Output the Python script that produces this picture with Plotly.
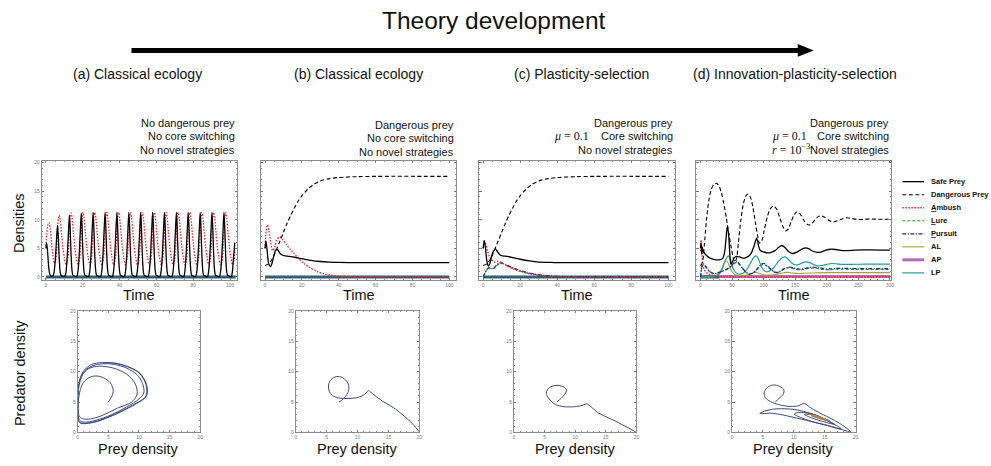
import plotly.graph_objects as go

W, H = 991, 466

# ---------------- data ----------------
series_names = ["Safe Prey", "Dangerous Prey", "<u>A</u>mbush", "<u>L</u>ure",
                "<u>P</u>ursuit", "AL", "AP", "LP"]
panel_titles = ["(a) Classical ecology", "(b) Classical ecology",
                "(c) Plasticity-selection", "(d) Innovation-plasticity-selection"]
conditions = [["No dangerous prey", "No core switching", "No novel strategies"],
              ["Dangerous prey", "No core switching", "No novel strategies"],
              ["Dangerous prey", "Core switching", "No novel strategies"],
              ["Dangerous prey", "Core switching", "Novel strategies"]]
ticks_t100 = [0, 20, 40, 60, 80, 100]
ticks_t300 = [0, 50, 100, 150, 200, 250, 300]
ticks_dens = [0, 5, 10, 15, 20]

# panel (a)
safe_a_t = [0, 0.4, 0.9, 1.5, 2.1, 2.8,
            3.9, 4.5, 5.1, 5.7, 6.3, 6.75, 7.2, 7.7, 8.2, 9.3,
            10.35, 10.95, 11.55, 12.15, 12.75, 13.2, 13.65, 14.15, 14.65, 15.75,
            16.8, 17.4, 18.0, 18.6, 19.2, 19.65, 20.1, 20.6, 21.1, 22.2,
            23.2, 23.8, 24.4, 25.0, 25.6, 26.05, 26.5, 27.0, 27.5, 28.6,
            29.7, 30.3, 30.9, 31.5, 32.1, 32.55, 33.0, 33.5, 34.0, 35.1,
            36.1, 36.7, 37.3, 37.9, 38.5, 38.95, 39.4, 39.9, 40.4, 41.5,
            42.6, 43.2, 43.8, 44.4, 45.0, 45.45, 45.9, 46.4, 46.9, 48.0,
            49.0, 49.6, 50.2, 50.8, 51.4, 51.85, 52.3, 52.8, 53.3, 54.4,
            55.5, 56.1, 56.7, 57.3, 57.9, 58.35, 58.8, 59.3, 59.8, 60.9,
            61.9, 62.5, 63.1, 63.7, 64.3, 64.75, 65.2, 65.7, 66.2, 67.3,
            68.4, 69.0, 69.6, 70.2, 70.8, 71.25, 71.7, 72.2, 72.7, 73.8,
            74.8, 75.4, 76.0, 76.6, 77.2, 77.65, 78.1, 78.6, 79.1, 80.2,
            81.3, 81.9, 82.5, 83.1, 83.7, 84.15, 84.6, 85.1, 85.6, 86.7,
            87.7, 88.3, 88.9, 89.5, 90.1, 90.55, 91.0, 91.5, 92.0, 93.1,
            94.2, 94.8, 95.4, 96.0, 96.6, 97.05, 97.5, 98.0, 98.5, 99.6,
            100.6, 101.2, 101.8, 102.5]
safe_a_v = [5.0, 5.9, 4.5, 1.8, 0.5, 0.15,
            0.2, 1.0, 3.0, 6.2, 9.0, 7.0, 3.5, 1.0, 0.3, 0.1,
            0.15, 1.0, 3.5, 7.2, 10.8, 8.2, 4.0, 1.2, 0.3, 0.1,
            0.1, 1.0, 3.5, 7.5, 11.2, 8.5, 4.0, 1.2, 0.3, 0.1,
            0.1, 1.0, 3.5, 7.5, 11.3, 8.5, 4.0, 1.2, 0.3, 0.1,
            0.1, 1.0, 3.5, 7.5, 11.3, 8.5, 4.0, 1.2, 0.3, 0.1,
            0.1, 1.0, 3.5, 7.5, 11.3, 8.5, 4.0, 1.2, 0.3, 0.1,
            0.1, 1.0, 3.5, 7.5, 11.3, 8.5, 4.0, 1.2, 0.3, 0.1,
            0.1, 1.0, 3.5, 7.5, 11.3, 8.5, 4.0, 1.2, 0.3, 0.1,
            0.1, 1.0, 3.5, 7.5, 11.3, 8.5, 4.0, 1.2, 0.3, 0.1,
            0.1, 1.0, 3.5, 7.5, 11.3, 8.5, 4.0, 1.2, 0.3, 0.1,
            0.1, 1.0, 3.5, 7.5, 11.3, 8.5, 4.0, 1.2, 0.3, 0.1,
            0.1, 1.0, 3.5, 7.5, 11.3, 8.5, 4.0, 1.2, 0.3, 0.1,
            0.1, 1.0, 3.5, 7.5, 11.3, 8.5, 4.0, 1.2, 0.3, 0.1,
            0.1, 1.0, 3.5, 7.5, 11.3, 8.5, 4.0, 1.2, 0.3, 0.1,
            0.1, 1.0, 3.5, 7.5, 11.3, 8.5, 4.0, 1.2, 0.3, 0.1,
            0.1, 1.0, 3.5, 6.0]
amb_a_t = [0, 0.5, 1.0, 1.7, 2.4, 3.1, 3.8, 4.5,
           5.3, 5.9, 6.3, 6.75, 7.2, 7.8, 8.5, 9.2, 10.0, 10.95,
           11.75, 12.35, 12.75, 13.2, 13.65, 14.25, 14.95, 15.65, 16.45, 17.4,
           18.2, 18.8, 19.2, 19.65, 20.1, 20.7, 21.4, 22.1, 22.9, 23.85,
           24.6, 25.2, 25.6, 26.05, 26.5, 27.1, 27.8, 28.5, 29.3, 30.25,
           31.1, 31.7, 32.1, 32.55, 33.0, 33.6, 34.3, 35.0, 35.8, 36.75,
           37.5, 38.1, 38.5, 38.95, 39.4, 40.0, 40.7, 41.4, 42.2, 43.15,
           44.0, 44.6, 45.0, 45.45, 45.9, 46.5, 47.2, 47.9, 48.7, 49.65,
           50.4, 51.0, 51.4, 51.85, 52.3, 52.9, 53.6, 54.3, 55.1, 56.05,
           56.9, 57.5, 57.9, 58.35, 58.8, 59.4, 60.1, 60.8, 61.6, 62.55,
           63.3, 63.9, 64.3, 64.75, 65.2, 65.8, 66.5, 67.2, 68.0, 68.95,
           69.8, 70.4, 70.8, 71.25, 71.7, 72.3, 73.0, 73.7, 74.5, 75.45,
           76.2, 76.8, 77.2, 77.65, 78.1, 78.7, 79.4, 80.1, 80.9, 81.85,
           82.7, 83.3, 83.7, 84.15, 84.6, 85.2, 85.9, 86.6, 87.4, 88.35,
           89.1, 89.7, 90.1, 90.55, 91.0, 91.6, 92.3, 93.0, 93.8, 94.75,
           95.6, 96.2, 96.6, 97.05, 97.5, 98.1, 98.8, 99.5, 100.3, 101.25,
           102.0, 102.5]
amb_a_v = [5.3, 7.5, 9.0, 9.5, 8.3, 6.0, 3.8, 2.4,
           2.9, 5.0, 8.0, 10.2, 10.8, 9.8, 7.5, 5.2, 3.4, 2.1,
           2.9, 5.0, 8.0, 10.5, 11.2, 10.2, 7.7, 5.3, 3.5, 2.1,
           2.9, 5.0, 8.0, 10.5, 11.3, 10.3, 7.8, 5.4, 3.5, 2.1,
           2.9, 5.0, 8.0, 10.5, 11.3, 10.3, 7.8, 5.4, 3.5, 2.1,
           2.9, 5.0, 8.0, 10.5, 11.3, 10.3, 7.8, 5.4, 3.5, 2.1,
           2.9, 5.0, 8.0, 10.5, 11.3, 10.3, 7.8, 5.4, 3.5, 2.1,
           2.9, 5.0, 8.0, 10.5, 11.3, 10.3, 7.8, 5.4, 3.5, 2.1,
           2.9, 5.0, 8.0, 10.5, 11.3, 10.3, 7.8, 5.4, 3.5, 2.1,
           2.9, 5.0, 8.0, 10.5, 11.3, 10.3, 7.8, 5.4, 3.5, 2.1,
           2.9, 5.0, 8.0, 10.5, 11.3, 10.3, 7.8, 5.4, 3.5, 2.1,
           2.9, 5.0, 8.0, 10.5, 11.3, 10.3, 7.8, 5.4, 3.5, 2.1,
           2.9, 5.0, 8.0, 10.5, 11.3, 10.3, 7.8, 5.4, 3.5, 2.1,
           2.9, 5.0, 8.0, 10.5, 11.3, 10.3, 7.8, 5.4, 3.5, 2.1,
           2.9, 5.0, 8.0, 10.5, 11.3, 10.3, 7.8, 5.4, 3.5, 2.1,
           2.9, 5.0, 8.0, 10.5, 11.3, 10.3, 7.8, 5.4, 3.5, 2.1,
           2.9, 4.6]
zero_a_t = [0, 103]
zero_a_v = [0, 0]

# panel (b)
safe_b_t = [0, 0.5, 1.2, 2.0, 3.0, 4.0, 5.0, 6.0, 7.0, 8.0, 9.5, 11, 13, 16, 20, 25, 30, 35, 40, 50, 60, 80, 100]
safe_b_v = [5.0, 6.3, 4.5, 2.3, 1.8, 2.6, 4.0, 4.8, 4.7, 4.2, 3.8, 3.7, 3.6, 3.45, 3.2, 2.9, 2.7, 2.6, 2.55, 2.5, 2.5, 2.5, 2.5]
dang_b_t = [0, 2, 4, 6, 8, 10, 12, 14, 16, 18, 20, 23, 26, 30, 35, 40, 50, 60, 100]
dang_b_v = [2.0, 2.3, 3.2, 4.6, 6.2, 7.8, 9.4, 10.8, 12.1, 13.3, 14.2, 15.3, 16.1, 16.8, 17.2, 17.4, 17.55, 17.6, 17.6]
amb_b_t = [0, 0.6, 1.3, 2.2, 3.2, 4.1, 5.2, 6.5, 8.0, 9.5, 11.5, 13.5, 15.5, 18, 21, 24, 28, 32, 36, 40, 45, 50, 100]
amb_b_v = [5.0, 8.0, 9.1, 8.0, 5.8, 4.6, 5.2, 6.5, 7.0, 6.6, 5.7, 4.9, 4.2, 3.3, 2.4, 1.7, 1.0, 0.55, 0.3, 0.15, 0.05, 0.0, 0.0]
zero_b_t = [0, 100]
zero_b_v = [0, 0]

# panel (c)
safe_c_t = [0, 0.6, 1.3, 2.0, 2.8, 3.6, 4.5, 5.5, 6.6, 7.8, 9.0, 10.5, 13, 16, 20, 25, 30, 35, 40, 50, 100]
safe_c_v = [5.0, 6.4, 5.0, 2.8, 1.9, 2.3, 3.5, 4.5, 4.9, 4.4, 3.9, 3.7, 3.6, 3.4, 3.1, 2.8, 2.6, 2.55, 2.5, 2.5, 2.5]
dang_c_t = [0, 2, 4, 6, 8, 10, 12, 14, 16, 18, 20, 23, 26, 30, 35, 40, 50, 60, 100]
dang_c_v = [2.0, 2.3, 3.2, 4.6, 6.2, 7.8, 9.4, 10.8, 12.1, 13.3, 14.2, 15.3, 16.1, 16.8, 17.2, 17.4, 17.55, 17.6, 17.6]
amb_c_t = [0, 0.7, 1.5, 2.5, 3.5, 4.5, 5.5, 6.5, 8, 9.5, 11, 13, 15, 18, 22, 26, 30, 35, 40, 100]
amb_c_v = [5.0, 6.2, 5.6, 4.4, 3.5, 3.0, 2.7, 2.6, 2.7, 2.6, 2.3, 1.9, 1.6, 1.2, 0.8, 0.5, 0.3, 0.12, 0.04, 0.0]
lp_c_t = [0, 1, 2, 3, 4, 5, 6, 7, 8.5, 10, 12, 14, 17, 20, 24, 28, 32, 36, 40, 45, 100]
lure_c_v = [0, 0.7, 1.3, 1.6, 1.5, 1.4, 1.5, 1.9, 2.3, 2.35, 2.1, 1.8, 1.4, 1.05, 0.7, 0.45, 0.27, 0.15, 0.08, 0.03, 0]
purs_c_v = [0, 0.7, 1.3, 1.6, 1.55, 1.45, 1.6, 2.0, 2.4, 2.45, 2.2, 1.9, 1.5, 1.1, 0.75, 0.48, 0.3, 0.17, 0.09, 0.03, 0]
zero_c_t = [0, 100]
zero_c_v = [0, 0]

# panel (d)
safe_d_t = [0, 1, 2, 3, 4, 6, 10, 15, 22, 30, 35, 38, 40.5, 42.5, 44.5, 46.5, 48, 50, 53, 57,
            62, 67, 72, 77, 81, 85, 89, 92, 95, 100, 106, 112, 118, 124, 129, 134, 140, 146, 152, 158,
            163, 167, 172, 178, 185, 192, 199, 206, 214, 222, 232, 245, 260, 280, 300]
safe_d_v = [5.0, 6.0, 4.0, 5.2, 4.6, 4.2, 3.7, 3.3, 3.05, 3.0, 3.2, 4.2, 6.8, 8.8, 7.5, 4.0, 2.3, 2.5, 3.3, 3.6,
            3.5, 3.3, 3.4, 3.7, 4.3, 5.5, 6.8, 5.4, 4.6, 4.4, 4.2, 4.3, 4.6, 5.2, 5.5, 5.1, 4.4, 4.1, 4.3, 4.7,
            5.0, 5.1, 4.9, 4.5, 4.3, 4.4, 4.7, 4.85, 4.8, 4.65, 4.6, 4.7, 4.75, 4.7, 4.7]
dang_d_t = [0, 3, 6, 9.5, 13, 17, 21, 25, 29, 33, 37, 41, 45, 49, 52, 54.5, 57, 60, 64, 68,
            72, 75, 79, 83, 87, 90.5, 93.5, 97, 101, 106, 111, 116, 121, 126, 131, 135, 139, 144, 149, 153,
            158, 163, 168, 172.5, 177, 182, 187, 191, 196, 202, 207, 212, 218, 225, 232, 240, 250, 260, 270, 280,
            290, 300]
dang_d_v = [2.0, 2.5, 5.5, 10.0, 13.2, 15.3, 16.2, 16.4, 16.0, 14.8, 12.8, 10.3, 7.5, 5.0, 3.3, 2.6, 3.2, 6.0, 10.0, 12.8,
            14.2, 14.5, 14.0, 12.2, 9.5, 7.2, 5.9, 6.3, 8.2, 10.6, 12.0, 12.4, 11.8, 10.2, 8.7, 8.05, 8.4, 9.8, 11.0, 11.4,
            11.0, 10.0, 9.3, 9.1, 9.4, 10.1, 10.6, 10.7, 10.5, 10.0, 9.7, 9.65, 9.9, 10.2, 10.35, 10.2, 10.05, 10.1, 10.15, 10.1,
            10.1, 10.1]
amb_d_t = [0, 0.8, 1.6, 2.5, 4, 6, 9, 13, 18, 25, 35, 50, 300]
amb_d_v = [4.5, 6.5, 5.5, 3.8, 2.2, 1.3, 0.8, 0.5, 0.3, 0.15, 0.05, 0.0, 0.0]
lp2_d_t = [0, 1.5, 3, 5, 8, 12, 16, 20, 25, 30, 35, 40, 45, 50, 54, 58, 62, 67, 72, 77,
           82, 87, 92, 97, 101, 106, 112, 118, 122, 127, 133, 139, 146, 152, 158, 165, 172, 180, 188, 195,
           205, 215, 230, 250, 270, 300]
lure_d_v = [0, 1.2, 2.0, 2.2, 1.8, 1.2, 0.8, 0.6, 0.6, 0.8, 1.0, 1.2, 1.5, 2.0, 2.4, 2.5, 2.1, 1.4, 0.8, 0.5,
            0.6, 1.0, 1.6, 2.1, 2.2, 1.8, 1.2, 0.8, 0.75, 1.0, 1.4, 1.6, 1.5, 1.3, 1.2, 1.35, 1.5, 1.55, 1.45, 1.3,
            1.25, 1.35, 1.35, 1.3, 1.3, 1.3]
purs_d_v = [0, 1.3, 2.1, 2.3, 1.9, 1.3, 0.85, 0.65, 0.65, 0.85, 1.05, 1.3, 1.6, 2.1, 2.55, 2.65, 2.2, 1.5, 0.85, 0.55,
            0.65, 1.1, 1.7, 2.25, 2.35, 1.95, 1.3, 0.85, 0.8, 1.05, 1.5, 1.7, 1.65, 1.45, 1.35, 1.5, 1.65, 1.7, 1.6, 1.45,
            1.4, 1.5, 1.5, 1.45, 1.45, 1.45]
al_d_t = [0, 20, 28, 33, 37, 40, 43, 46, 50, 55, 62, 70, 78, 84, 88, 93, 100, 110, 120, 130,
          137, 145, 155, 165, 180, 200, 230, 300]
al_d_v = [0, 0.1, 0.5, 1.3, 2.3, 2.8, 2.6, 1.8, 0.9, 0.4, 0.25, 0.3, 0.5, 0.75, 0.8, 0.6, 0.4, 0.35, 0.45, 0.7,
          0.8, 0.7, 0.6, 0.65, 0.7, 0.75, 0.75, 0.75]
ap_d_t = [0, 300]
ap_d_v = [0.1, 0.1]
lpt_d_t = [0, 20, 28, 33, 37, 41, 44, 47, 50, 54, 58, 63, 68, 74, 80, 85, 88.5, 92, 96, 100,
           106, 112, 118, 124, 130, 134, 139, 145, 150, 156, 162, 167, 173, 179, 185, 192, 200, 208, 216, 225,
           240, 260, 280, 300]
lpt_d_v = [0, 0.05, 0.3, 1.0, 2.2, 3.3, 3.7, 3.2, 2.0, 1.0, 0.6, 0.5, 0.7, 1.4, 2.6, 3.5, 3.7, 3.1, 1.9, 1.2,
           0.9, 1.2, 1.9, 2.8, 3.4, 3.5, 3.1, 2.4, 2.1, 2.2, 2.5, 2.65, 2.5, 2.2, 1.95, 2.0, 2.2, 2.35, 2.3, 2.2,
           2.2, 2.25, 2.25, 2.25]
zero_d_t = [0, 30]
zero_d_v = [0, 0]

# phase portraits (prey density, predator density)
pa_x = [5.0, 5.6, 5.8, 5.3, 4.2, 3.0, 1.8, 0.8, 0.3, 0.1, 0.1, 0.3, 1.0, 2.5, 4.5, 6.5, 8.8, 9.7, 9.4, 8.0,
        5.8, 3.5, 2.0, 1.0, 0.4, 0.12, 0.06, 0.06, 0.3, 1.0, 3.0, 5.5, 8.0, 10.0, 10.8, 10.6, 9.7, 8.0, 6.0, 4.0,
        2.5, 1.2, 0.4, 0.06, 0.03, 0.03, 0.2, 0.8, 3.0, 6.0, 9.0, 11.0, 11.3, 11.0, 10.0, 8.2, 6.0, 4.0, 2.3, 1.1,
        0.35, 0.05, 0.02, 0.02, 0.15, 0.7, 3.0, 6.0, 9.0, 11.1, 11.4, 11.1, 10.1, 8.3, 6.1, 4.1]
pa_y = [5.0, 6.0, 7.0, 8.2, 9.0, 9.3, 9.0, 8.0, 6.5, 5.0, 3.5, 2.6, 2.2, 2.3, 3.0, 4.0, 5.0, 6.3, 8.0, 9.6,
        10.6, 10.9, 10.6, 9.8, 8.5, 7.0, 5.0, 3.0, 2.0, 1.7, 2.0, 2.9, 4.2, 5.5, 6.5, 8.0, 9.5, 10.6, 11.2, 11.3,
        11.0, 10.2, 8.8, 7.0, 5.0, 3.0, 1.8, 1.5, 1.8, 3.0, 4.5, 5.8, 6.8, 8.3, 9.8, 10.8, 11.4, 11.5, 11.2, 10.3,
        8.8, 7.0, 5.0, 3.0, 1.8, 1.45, 1.75, 2.9, 4.4, 5.8, 6.8, 8.3, 9.8, 10.8, 11.4, 11.5]
pb_x = [7.0, 7.7, 8.3, 8.6, 8.4, 7.6, 6.6, 5.7, 5.3, 5.4, 5.9, 6.8, 7.8, 8.8, 9.8, 10.9, 11.5, 11.8, 12.1,
        12.8, 14.1, 15.3, 16.2, 17.2, 18.1, 19.1, 20.0]
pb_y = [5.0, 5.5, 6.3, 7.3, 8.2, 9.0, 9.2, 8.7, 7.8, 6.8, 6.1, 5.7, 5.6, 5.6, 5.7, 6.1, 6.6, 6.9, 6.65,
        6.1, 5.1, 4.4, 3.8, 3.0, 2.2, 1.2, 0.1]
pc_x = [7.0, 7.7, 8.3, 8.6, 8.1, 7.2, 6.2, 5.5, 5.3, 5.6, 6.2, 7.0, 8.0, 9.2, 10.5, 11.3, 11.9, 12.3,
        13.8, 15.2, 16.5, 17.6, 18.6, 19.4, 19.9]
pc_y = [5.0, 5.6, 6.3, 7.0, 7.5, 7.75, 7.6, 7.1, 6.4, 5.7, 5.0, 4.5, 4.25, 4.2, 4.3, 4.5, 4.7, 4.45,
        3.2, 2.5, 1.9, 1.3, 0.8, 0.35, 0.05]
pd_x = [7.0, 7.6, 8.3, 8.4, 7.7, 6.6, 5.6, 5.2, 5.4, 6.2, 7.5, 9.0, 10.6, 11.7, 12.8, 14.4, 16.2, 17.7, 18.8, 19.2,
        18.5, 16.5, 14.4, 12.0, 9.0, 6.5, 5.0, 4.5, 5.0, 6.5, 8.5, 10.5, 12.5, 14.5, 16.2, 17.7, 17.2, 15.5, 13.4, 11.5,
        10.1, 10.5, 12.0, 13.5, 15.2, 16.6, 16.0, 14.5, 13.0, 11.7, 12.3, 13.5, 14.8, 15.8, 15.2, 14.0, 12.8, 13.3, 14.3, 15.2,
        14.7, 14.0, 14.5]
pd_y = [5.0, 5.6, 6.3, 7.0, 7.6, 7.8, 7.3, 6.5, 5.7, 5.1, 4.6, 4.3, 4.35, 4.75, 4.0, 3.1, 2.2, 1.3, 0.5, 0.1,
        0.25, 0.85, 1.4, 2.0, 2.7, 3.15, 3.1, 3.15, 3.4, 3.8, 3.9, 3.7, 3.2, 2.4, 1.5, 0.6, 0.6, 1.15, 1.65, 2.3,
        3.0, 3.25, 3.25, 2.9, 2.1, 1.35, 1.45, 1.85, 2.35, 2.95, 3.0, 2.8, 2.3, 1.9, 2.0, 2.35, 2.8, 2.8, 2.5, 2.15,
        2.3, 2.5, 2.4]

# ---------------- styles ----------------
FONT = "Liberation Sans, Arial, Helvetica, sans-serif"
SERIF = "Liberation Serif, DejaVu Serif, serif"
C_SAFE = "#000000"
C_DANG = "#000000"
C_AMB = "#ff1a1a"
C_LURE = "#1aa01a"
C_PURS = "#1a1acc"
C_AL = "#a3a32e"
C_AP = "#b46bb8"
C_LP = "#1f9e9e"
C_ZERO = "#2f5f70"
C_PH = "#3d4a7e"
STY = {
    "safe": dict(color=C_SAFE, width=1.3),
    "dang": dict(color=C_DANG, width=1.1, dash="4px,2.5px"),
    "amb": dict(color=C_AMB, width=1.3, dash="1.5px,1.5px"),
    "lure": dict(color=C_LURE, width=1.2, dash="3px,2px"),
    "purs": dict(color=C_PURS, width=1.2, dash="4px,1.5px,1px,1.5px"),
    "al": dict(color=C_AL, width=1.1),
    "ap": dict(color=C_AP, width=3),
    "lp": dict(color=C_LP, width=1.2),
    "zero": dict(color=C_ZERO, width=3),
}


def px(x):
    return x / W


def py(y):
    return 1 - y / H


fig = go.Figure()


def add(t, v, key, ax):
    ln = dict(STY[key])
    ln["shape"] = "spline"
    ln["smoothing"] = 0.8
    fig.add_trace(go.Scatter(x=t, y=v, mode="lines", line=ln,
                             xaxis="x" + ax, yaxis="y" + ax, hoverinfo="skip"))


# (a)
add(zero_a_t, zero_a_v, "zero", "")
add(amb_a_t, amb_a_v, "amb", "")
add(safe_a_t, safe_a_v, "safe", "")
# (b)
add(zero_b_t, zero_b_v, "zero", "2")
add(amb_b_t, amb_b_v, "amb", "2")
add(dang_b_t, dang_b_v, "dang", "2")
add(safe_b_t, safe_b_v, "safe", "2")
# (c)
add(zero_c_t, zero_c_v, "zero", "3")
add(lp_c_t, lure_c_v, "lure", "3")
add(lp_c_t, purs_c_v, "purs", "3")
add(amb_c_t, amb_c_v, "amb", "3")
add(dang_c_t, dang_c_v, "dang", "3")
add(safe_c_t, safe_c_v, "safe", "3")
# (d)
add(ap_d_t, ap_d_v, "ap", "4")
add(zero_d_t, zero_d_v, "zero", "4")
add(al_d_t, al_d_v, "al", "4")
add(lpt_d_t, lpt_d_v, "lp", "4")
add(lp2_d_t, lure_d_v, "lure", "4")
add(lp2_d_t, purs_d_v, "purs", "4")
add(amb_d_t, amb_d_v, "amb", "4")
add(dang_d_t, dang_d_v, "dang", "4")
add(safe_d_t, safe_d_v, "safe", "4")

# phase portraits
for ax, (xs, ys) in zip(["5", "6", "7", "8"], [(pa_x, pa_y), (pb_x, pb_y), (pc_x, pc_y), (pd_x, pd_y)]):
    fig.add_trace(go.Scatter(x=xs, y=ys, mode="lines",
                             line=dict(color=C_PH, width=1, shape="spline", smoothing=0.9),
                             xaxis="x" + ax, yaxis="y" + ax, hoverinfo="skip"))
fig.add_trace(go.Scatter(x=pd_x[-14:], y=pd_y[-14:], mode="lines",
                         line=dict(color="#9a7a5a", width=1, shape="spline", smoothing=0.9),
                         xaxis="x8", yaxis="y8", hoverinfo="skip"))
fig.add_trace(go.Scatter(x=pd_x[-7:], y=pd_y[-7:], mode="lines",
                         line=dict(color="#d08a3a", width=1, shape="spline", smoothing=0.9),
                         xaxis="x8", yaxis="y8", hoverinfo="skip"))

# ---------------- axes ----------------
ts_dx = [(41, 237), (261, 457), (480, 677), (698, 894)]
ts_dy = (160, 281)
ph_dx = [(77, 200), (296, 420), (515, 638), (734, 858)]
ph_dy = (312, 435)


def axis(dom, rng, tickvals, minor_dt, anchor, labels=True):
    return dict(domain=dom, range=rng, tickvals=tickvals, showticklabels=labels,
                showgrid=False, zeroline=False, showline=True, linecolor="#8c8c8c",
                linewidth=1, mirror="ticks", ticks="inside", ticklen=2.5, tickwidth=0.6,
                tickcolor="#777777", tickfont=dict(size=5, color="#777777", family=FONT),
                minor=dict(ticks="inside", ticklen=1.3, tickwidth=0.5, tickcolor="#8c8c8c", dtick=minor_dt),
                anchor=anchor, fixedrange=True)


layout_axes = {}
names = ["", "2", "3", "4"]
for i, nm in enumerate(names):
    x0, x1 = ts_dx[i]
    if i < 3:
        xr, xt, xm = [-2.2, 103.7], ticks_t100, 5
    else:
        xr, xt, xm = [-6.8, 302.3], ticks_t300, 10
    layout_axes["xaxis" + nm] = axis([px(x0), px(x1)], xr, xt, xm, "y" + nm)
    layout_axes["yaxis" + nm] = axis([py(ts_dy[1]), py(ts_dy[0])], [-0.6, 20.3], ticks_dens, 1,
                                     "x" + nm, labels=(i == 0))
for i, nm in enumerate(["5", "6", "7", "8"]):
    x0, x1 = ph_dx[i]
    layout_axes["xaxis" + nm] = axis([px(x0), px(x1)], [0, 20], ticks_dens, 1, "y" + nm)
    layout_axes["yaxis" + nm] = axis([py(ph_dy[1]), py(ph_dy[0])], [0, 20], ticks_dens, 1, "x" + nm)

# ---------------- annotations ----------------
ann = []


def txt(x, y, s, size, xanchor="center", family=FONT, angle=0, color="#111111"):
    ann.append(dict(x=px(x), y=py(y), xref="paper", yref="paper", text=s, showarrow=False,
                    xanchor=xanchor, yanchor="middle", textangle=angle,
                    font=dict(size=size, family=family, color=color)))


txt(495, 18, "Theory development", 24.5)
for cx, s in zip([137, 359, 583, 797], panel_titles):
    txt(cx, 72, s, 14)
cond_y = [(122, 135, 149), (124, 137, 151), (122, 135, 149), (122, 135, 149)]
for i in range(4):
    for s, yy in zip(conditions[i], cond_y[i]):
        txt(ts_dx[i][1], yy, s, 11, xanchor="right")
txt(592, 135, "<i>μ</i> = 0.1", 12, xanchor="right", family=SERIF)
txt(811, 135, "<i>μ</i> = 0.1", 12, xanchor="right", family=SERIF)
txt(814, 148, "<i>r</i> = 10<sup>−3</sup>", 12, xanchor="right", family=SERIF)
txt(18, 223, "Densities", 14.5, angle=-90)
txt(19, 375, "Predator density", 14.5, angle=-90)
for i in range(4):
    txt((ts_dx[i][0] + ts_dx[i][1]) / 2, 296, "Time", 14.5)
    txt((ph_dx[i][0] + ph_dx[i][1]) / 2, 452, "Prey density", 14.5)

# legend (manual)
leg_keys = ["safe", "dang", "amb", "lure", "purs", "al", "ap", "lp"]
shapes = []
for k, (key, name) in enumerate(zip(leg_keys, series_names)):
    yy = 181 + 13.2 * k
    st = STY[key]
    ln = dict(color=st["color"], width=st["width"])
    if "dash" in st:
        ln["dash"] = st["dash"]
    shapes.append(dict(type="line", xref="paper", yref="paper", x0=px(905), x1=px(927),
                       y0=py(yy), y1=py(yy), line=ln))
    txt(932, yy, "<b>" + name + "</b>", 7.5, xanchor="left")

# arrow
shapes.append(dict(type="line", xref="paper", yref="paper", x0=px(131), x1=px(802),
                   y0=py(48), y1=py(48), line=dict(color="#000000", width=5)))
shapes.append(dict(type="path", xref="paper", yref="paper",
                   path="M %f,%f L %f,%f L %f,%f Z" % (px(800), py(41.5), px(816), py(48), px(800), py(54.5)),
                   fillcolor="#000000", line=dict(color="#000000", width=0)))

fig.update_layout(width=W, height=H, margin=dict(l=0, r=0, t=0, b=0),
                  paper_bgcolor="white", plot_bgcolor="white", showlegend=False,
                  annotations=ann, shapes=shapes, **layout_axes)

fig.write_html("out.html")
